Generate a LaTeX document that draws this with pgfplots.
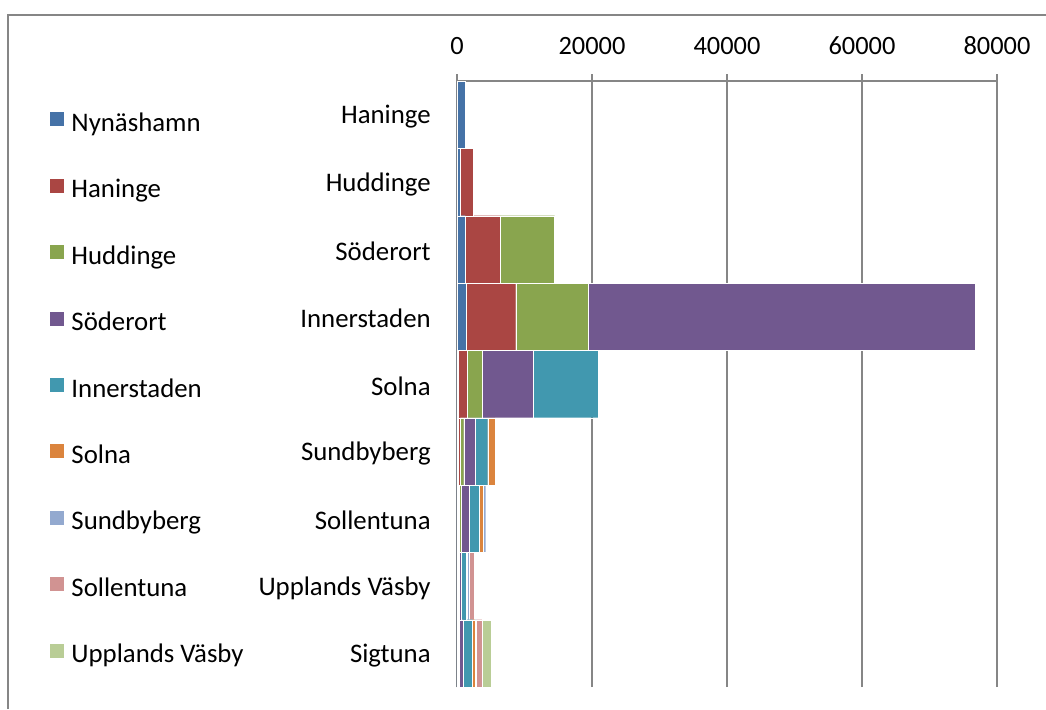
\documentclass[border=0pt]{standalone}
\usepackage{pgfplots}
\pgfplotsset{compat=1.18}
\usepackage{fontspec}
\setmainfont{Carlito}
\definecolor{c1}{HTML}{4572A7}
\definecolor{c2}{HTML}{AA4643}
\definecolor{c3}{HTML}{89A54E}
\definecolor{c4}{HTML}{71588F}
\definecolor{c5}{HTML}{4198AF}
\definecolor{c6}{HTML}{DB843D}
\definecolor{c7}{HTML}{93A9CF}
\definecolor{c8}{HTML}{D19392}
\definecolor{c9}{HTML}{B9CD96}
\definecolor{gline}{RGB}{134,134,134}
% columns: y index (0 = Sigtuna ... 8 = Haninge), one value per series
\pgfplotstableread{
y  nyn  han  hud  sod  inn  sol  sun  sle  upv
8  1250 0    0    0     0    0    0    0    0
7  500  1900 0    0     0    0    0    0    0
6  1250 5150 8050 0     0    0    0    0    0
5  1300 7400 10800 57300 0   0    0    0    0
4  200  1300 2200 7600  9600 0    0    0    0
3  150  300  550  1700  1850 1100 0    0    0
2  100  200  300  1200  1500 600  350  0    0
1  50   100  150  300   700  200  250  850  0
0  50   100  150  650   1350 350  250  800  1350
}\data
\begin{document}
\fontsize{13.4}{16}\selectfont
\begin{tikzpicture}
\useasboundingbox (0,0) rectangle (523pt,354.5pt);
\draw[gline, line width=1pt] (4pt,0) -- (4pt,347pt) -- (523pt,347pt);
\begin{axis}[
  at={(228.5pt,11pt)}, anchor=south west,
  scale only axis, width=270pt, height=303pt,
  xbar stacked, bar width=1,
  xmin=0, xmax=80000, ymin=-0.5, ymax=8.5,
  xtick={0,20000,40000,60000,80000},
  scaled x ticks=false,
  /pgf/number format/1000 sep={},
  /pgf/number format/assume math mode=true,
  axis x line*=top, axis y line*=left,
  axis line style={gline, line width=1pt},
  tick align=outside,
  major tick length=3.5pt,
  minor tick length=6pt,
  xtick style={gline, line width=1pt},
  ytick={0,...,8},
  yticklabels={Sigtuna,Upplands Väsby,Sollentuna,Sundbyberg,Solna,Innerstaden,Söderort,Huddinge,Haninge},
  ytick style={draw=none},
  minor ytick={-0.5,0.5,...,8.5},
  minor y tick style={gline, line width=1pt},
  xmajorgrids,
  grid style={gline, line width=1pt},
  xticklabel style={font=\fontsize{13.2}{15.8}\selectfont, yshift=5pt},
  yticklabel style={font=\fontsize{13.4}{16}\selectfont, xshift=-5pt, yshift=-1pt},
  every axis plot/.append style={draw=white, line width=0.15pt},
  legend image code/.code={\fill[#1] (0pt,-1pt) rectangle (7.5pt,6.5pt);},
  legend cell align=left,
  legend style={draw=none, fill=none, inner sep=0pt, row sep=16.2pt, column sep=1.5pt,
    font=\fontsize{13.4}{16}\selectfont,
    nodes={text height=10pt, text depth=3pt, inner sep=2pt},
    at={(-0.756,0.957)}, anchor=north west},
]
\addplot[fill=c1] table[x=nyn,y=y]{\data};
\addplot[fill=c2] table[x=han,y=y]{\data};
\addplot[fill=c3] table[x=hud,y=y]{\data};
\addplot[fill=c4] table[x=sod,y=y]{\data};
\addplot[fill=c5] table[x=inn,y=y]{\data};
\addplot[fill=c6] table[x=sol,y=y]{\data};
\addplot[fill=c7] table[x=sun,y=y]{\data};
\addplot[fill=c8] table[x=sle,y=y]{\data};
\addplot[fill=c9] table[x=upv,y=y]{\data};
\legend{Nynäshamn,Haninge,Huddinge,Söderort,Innerstaden,Solna,Sundbyberg,Sollentuna,Upplands Väsby}
\end{axis}
\end{tikzpicture}
\end{document}
